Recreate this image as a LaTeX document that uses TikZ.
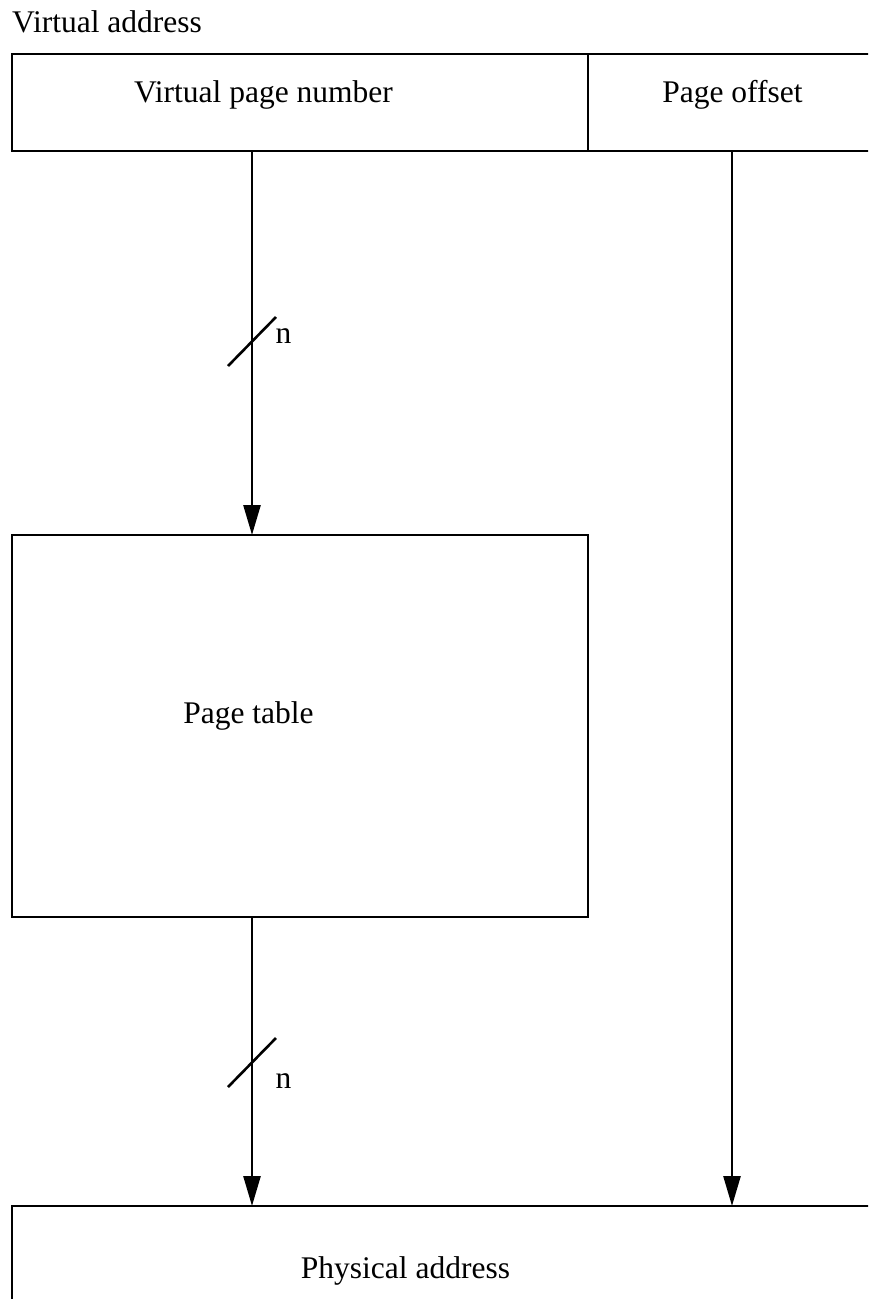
\documentclass[tikz,border=0pt]{standalone}
\usepackage{fontspec}
\setmainfont{Liberation Serif}
\usetikzlibrary{arrows.meta}
\begin{document}
\begin{tikzpicture}[x=1pt,y=-1pt,
  box/.style={draw,line width=2.8pt,rectangle,inner sep=0pt,outer sep=0pt},
  lbl/.style={anchor=base,inner sep=0pt,font=\fontsize{31.5}{36}\selectfont},
  arr/.style={line width=2.6pt,-{Triangle[length=30pt,width=17pt]}},
  tick/.style={line width=2.6pt}]
\useasboundingbox (0,0) rectangle (868,1299);
\clip (0,0) rectangle (868,1299);
% boxes
\node[box,minimum width=576pt,minimum height=97pt] (vpn) at (300,102.5) {};
\node[box,minimum width=300pt,minimum height=97pt] (off) at (738,102.5) {};
\node[box,minimum width=576pt,minimum height=382pt] (pt) at (300,726) {};
\node[box,minimum width=880pt,minimum height=160pt] (pa) at (452,1286) {};
% labels
\node[lbl,anchor=base west] (va) at (12,32) {Virtual address};
\node[lbl] (tvpn) at (263.5,102) {Virtual page number};
\node[lbl] (toff) at (732.5,102) {Page offset};
\node[lbl] (tpt) at (248.5,723) {Page table};
\node[lbl] (tpa) at (405.5,1278) {Physical address};
% arrow x positions
\coordinate (xl) at (252,0);
\coordinate (xr) at (732,0);
\draw[arr] (vpn.south -| xl) -- (pt.north -| xl);
\draw[arr] (off.south -| xr) -- (pa.north -| xr);
\draw[arr] (pt.south -| xl) -- (pa.north -| xl);
% bus width ticks
\coordinate (s1a) at (228,366);
\coordinate (s1b) at (276,317);
\draw[tick] (s1a) -- (s1b);
\node[lbl] (n1) at (283.5,343) {n};
\coordinate (s2a) at (228,1087);
\coordinate (s2b) at (276,1038);
\draw[tick] (s2a) -- (s2b);
\node[lbl] (n2) at (283.5,1088) {n};
\end{tikzpicture}
\end{document}
